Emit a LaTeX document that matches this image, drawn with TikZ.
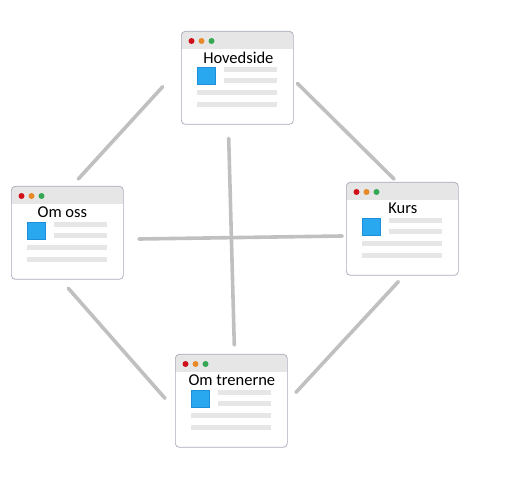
\documentclass[tikz,border=0pt]{standalone}
\usepackage{fontspec}
\setmainfont{Carlito}
\definecolor{winborder}{HTML}{A8ACBC}
\definecolor{barfill}{HTML}{E6E6E6}
\definecolor{linefill}{HTML}{E6E6E6}
\definecolor{conngray}{HTML}{C0C0C0}
\definecolor{dotred}{HTML}{D0101B}
\definecolor{dotorange}{HTML}{E8892A}
\definecolor{dotgreen}{HTML}{34A853}
\definecolor{imgblue}{HTML}{29A8F0}
\definecolor{imgborder}{HTML}{1C8FD8}
\tikzset{
  win/.style={draw=winborder, line width=0.7pt, rounded corners=4pt, minimum width=112pt, minimum height=93pt, inner sep=0pt, anchor=north west},
  conn/.style={draw=conngray, line width=3.6pt, line cap=round},
  winlabel/.style={font=\fontsize{16.5}{18}\selectfont, inner sep=0pt, text=black},
  txtline/.style={fill=linefill},
}
% #1 name, #2 left x, #3 top y, #4 label, #5 label x offset from centre
\newcommand\webwin[5]{%
  \begin{scope}
    \clip[rounded corners=4pt] (#2,#3) rectangle ++(112,93);
    \fill[white] (#2,#3) rectangle ++(112,93);
    \fill[barfill] (#2,#3) rectangle ++(112,18);
  \end{scope}
  \node[win] (#1) at (#2,#3) {};
  \fill[dotred]    ([xshift=10.5pt,yshift=-10pt]#1.north west) circle (3pt);
  \fill[dotorange] ([xshift=20.5pt,yshift=-10pt]#1.north west) circle (3pt);
  \fill[dotgreen]  ([xshift=30.5pt,yshift=-10pt]#1.north west) circle (3pt);
  \node[winlabel] (#1-label) at ([xshift=#5pt,yshift=-26.5pt]#1.north) {#4};
  \filldraw[fill=imgblue, draw=imgborder, line width=0.6pt] ([xshift=16pt,yshift=-36pt]#1.north west) rectangle ++(18,17.5);
  \fill[txtline] ([xshift=43pt,yshift=-36pt]#1.north west) rectangle ++(53,5);
  \fill[txtline] ([xshift=43pt,yshift=-47pt]#1.north west) rectangle ++(53,5);
  \fill[txtline] ([xshift=16pt,yshift=-59pt]#1.north west) rectangle ++(80,5);
  \fill[txtline] ([xshift=16pt,yshift=-71pt]#1.north west) rectangle ++(80,5);
}
\begin{document}
\begin{tikzpicture}[x=1pt,y=-1pt]
  \useasboundingbox (0,0) rectangle (512,486);
  \webwin{hoved}{181}{31}{Hovedside}{1}
  \webwin{omoss}{11}{186}{Om oss}{-5}
  \webwin{kurs}{346}{182}{Kurs}{0.5}
  \webwin{trener}{175}{354}{Om trenerne}{0.5}
  % connector end points
  \coordinate (a1) at (162.7,86.7);
  \coordinate (a2) at (78.3,179);
  \coordinate (b1) at (297.3,83.3);
  \coordinate (b2) at (394,179);
  \coordinate (c1) at (68.3,288.3);
  \coordinate (c2) at (165,398.3);
  \coordinate (d1) at (398.3,281.7);
  \coordinate (d2) at (296,392.3);
  \coordinate (v1) at (228.7,138.3);
  \coordinate (v2) at (234.3,345);
  \coordinate (h1) at (139,239);
  \coordinate (h2) at (342.3,236);
  \draw[conn] (a1) -- (a2);
  \draw[conn] (b1) -- (b2);
  \draw[conn] (c1) -- (c2);
  \draw[conn] (d1) -- (d2);
  \draw[conn] (v1) -- (v2);
  \draw[conn] (h1) -- (h2);
\end{tikzpicture}
\end{document}
